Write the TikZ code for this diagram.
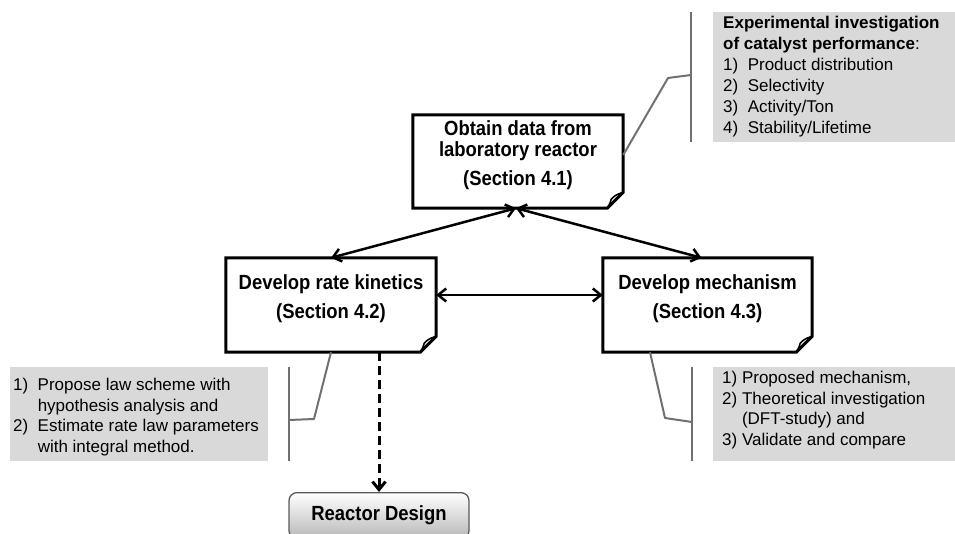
\documentclass[tikz,border=0pt]{standalone}
\usepackage{fontspec}
\setmainfont{Liberation Sans}
\newfontfamily\condbold[FakeStretch=0.9]{Liberation Sans Bold}
\usetikzlibrary{arrows.meta}
\definecolor{calgray}{HTML}{D9D9D9}
\definecolor{brgray}{HTML}{707070}
\tikzset{
  fbox/.style={minimum width=210, minimum height=94, inner sep=0},
  btext/.style={font=\condbold\fontsize{20.5}{21}\selectfont, align=center, inner sep=0},
  gbox/.style={fill=calgray, inner sep=0, anchor=north west},
  ctext/.style={font=\fontsize{17}{20.7}\selectfont, align=left, inner sep=0, anchor=north west},
  bracket/.style={draw=brgray, line width=2pt},
  barb/.tip={Straight Barb[length=8pt,width=13pt]},
  arr/.style={line width=2.5pt, barb-barb},
  outline/.style={line width=3pt, line join=miter},
  reactor/.style={draw=black!65, line width=1.3pt, rounded corners=8pt, top color=white, bottom color=black!28,
    minimum width=180, minimum height=46, inner sep=0, font=\condbold\fontsize{20.5}{21}\selectfont},
}
\newcommand{\foldoutline}[1]{%
  \draw[outline] (#1.north west) -- (#1.north east) -- ([yshift=16pt]#1.south east)
     -- ([xshift=-16pt]#1.south east) -- (#1.south west) -- cycle;
  \draw[line width=1.6pt, line join=round] ([yshift=16pt]#1.south east)
     .. controls ([xshift=-8pt,yshift=13pt]#1.south east) .. ([xshift=-12pt,yshift=9pt]#1.south east)
     .. controls ([xshift=-13pt,yshift=5pt]#1.south east) .. ([xshift=-16pt]#1.south east);
}
\begin{document}
\begin{tikzpicture}[x=1pt,y=-1pt]
\useasboundingbox (0,0) rectangle (955,534);
\clip (0,0) rectangle (955,534);

% main boxes
\node[fbox, minimum width=210, minimum height=93] (obtain) at (518,161.5) {};
\node[btext] (obtaintxt) at (518,155) {Obtain data from\\laboratory reactor\\[8pt](Section 4.1)};
\foldoutline{obtain}

\node[fbox] (kin) at (331,305) {};
\node[btext] (kintxt) at (331,298.5) {Develop rate kinetics\\[8pt](Section 4.2)};
\foldoutline{kin}

\node[fbox, minimum width=209] (mech) at (707.5,305) {};
\node[btext] (mechtxt) at (707.5,298.5) {Develop mechanism\\[8pt](Section 4.3)};
\foldoutline{mech}

\node[reactor, anchor=north] (rd) at (379,492) {Reactor Design};

% arrows
\draw[arr] ([xshift=-2pt]obtain.south) -- (kin.north);
\draw[arr] ([xshift=-2pt]obtain.south) -- ([xshift=-6pt]mech.north);
\draw[arr] ([yshift=10pt]kin.east) -- ([yshift=10pt]mech.west);
\draw[line width=3pt, dash pattern=on 9pt off 5pt, -barb] (rd.north |- kin.south) -- (rd.north);

% callout top right
\node[gbox, minimum width=250, minimum height=130] (c1) at (713,12) {};
\node[ctext, font=\fontsize{17}{21}\selectfont] (c1t) at (723,16) {\textbf{Experimental investigation}\\
\textbf{of catalyst performance}:\\
1)\ \ Product distribution\\
2)\ \ Selectivity\\
3)\ \ Activity/Ton\\
4)\ \ Stability/Lifetime};
\coordinate (b1a) at (691,12);
\coordinate (b1b) at (691,142);
\coordinate (b1m) at (691,75);
\coordinate (b1k) at (668,78);
\draw[bracket] (b1a) -- (b1b);
\draw[bracket, line join=round] (b1m) -- (b1k) -- ([yshift=6.5pt]obtain.east);

% callout bottom left
\node[gbox, minimum width=258, minimum height=94] (c2) at (10,367) {};
\node[ctext] (c2t) at (13,378) {1)\ \ Propose law scheme with\\
\hphantom{1)\ \ }hypothesis analysis and\\
2)\ \ Estimate rate law parameters\\
\hphantom{2)\ \ }with integral method.};
\coordinate (b2a) at (289,367);
\coordinate (b2b) at (289,461);
\coordinate (b2m) at (289,420);
\coordinate (b2k) at (314,419);
\draw[bracket] (b2a) -- (b2b);
\draw[bracket, line join=round] (b2m) -- (b2k) -- (kin.south);

% callout bottom right
\node[gbox, minimum width=250, minimum height=94] (c3) at (713,367) {};
\node[ctext] (c3t) at (722,371) {1) Proposed mechanism,\\
2) Theoretical investigation\\
\hphantom{2) }(DFT-study) and\\
3) Validate and compare};
\coordinate (b3a) at (692,367);
\coordinate (b3b) at (692,461);
\coordinate (b3m) at (692,422);
\coordinate (b3k) at (665,418);
\draw[bracket] (b3a) -- (b3b);
\draw[bracket, line join=round] (b3m) -- (b3k) -- ([xshift=-57.5pt]mech.south);
\end{tikzpicture}
\end{document}
